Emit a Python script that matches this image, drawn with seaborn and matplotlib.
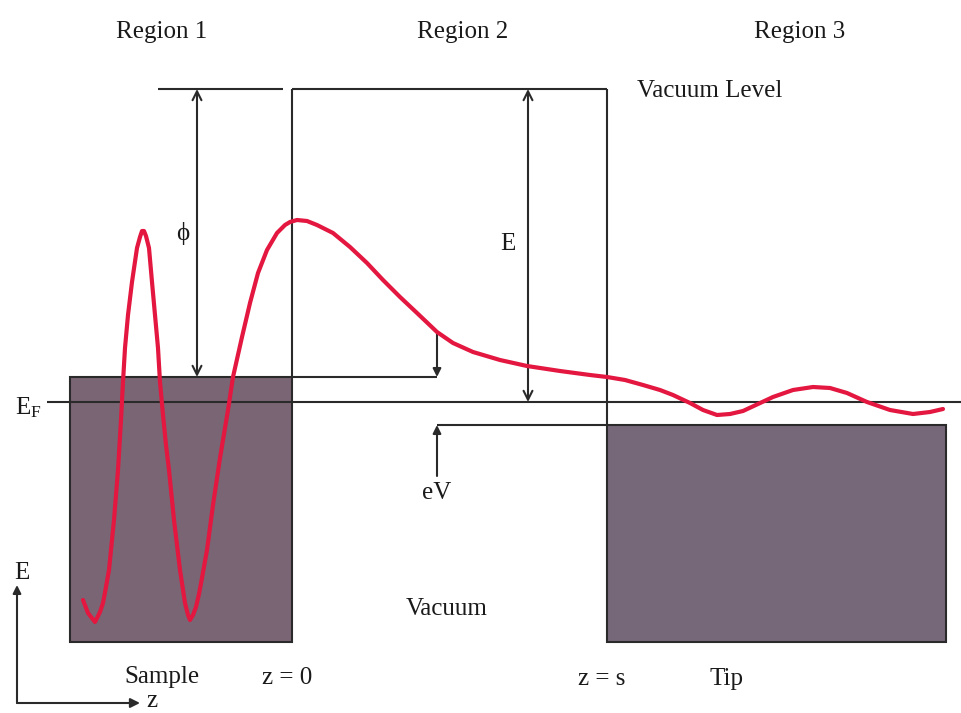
import numpy as np
import pandas as pd
import matplotlib
matplotlib.use("Agg")
import matplotlib.pyplot as plt
from matplotlib.patches import Rectangle
import seaborn as sns

# ---------------- data (diagram units = reference pixels) ----------------
wave_z = [83, 88, 95, 100, 103, 106, 109, 114, 118, 121, 123, 125, 128, 132, 137,
          140, 142, 144, 146, 149, 152, 155, 158, 160, 163, 166, 169, 174, 180, 185, 188,
          190, 193, 196, 199, 202, 207, 213, 220, 228, 233, 242, 250, 258, 267, 277,
          285, 290, 297, 307, 317, 333, 350, 367, 383, 400, 417, 437, 453, 473, 500,
          527, 560, 590, 607, 625, 643, 660, 673, 690, 703, 717, 730, 743, 758, 773,
          793, 813, 830, 847, 867, 890, 913, 930, 943]
wave_e = [600, 613, 622, 612, 603, 587, 570, 520, 470, 420, 382, 348, 315, 282, 248,
          237, 231, 231, 236, 248, 282, 315, 348, 382, 415, 445, 470, 520, 570, 603, 615,
          620, 615, 607, 594, 578, 550, 505, 458, 410, 377, 337, 303, 273, 250, 233,
          225, 222, 220, 221, 225, 233, 247, 263, 280, 297, 313, 332, 343, 352, 360,
          366, 371, 375, 377, 380, 385, 390, 395, 403, 410, 415, 414, 411, 404, 397,
          390, 387, 388, 393, 402, 410, 414, 412, 409]

vacuum_level = 89
sample_top = 377
fermi_level = 402
tip_top = 425
bottom_level = 642
sample_edges = [70, 292]
tip_edges = [607, 946]
eV_z = 437
phi_z = 197
E_z = 528

region_labels = ["Region 1", "Region 2", "Region 3"]
bottom_labels = ["Sample", "z = 0", "z = s", "Tip"]

# ---------------- figure ----------------
sns.set_style("white")
plt.rcParams["font.family"] = ["Liberation Serif", "DejaVu Serif"]
plt.rcParams["mathtext.fontset"] = "custom"
plt.rcParams["mathtext.rm"] = "Liberation Serif"
plt.rcParams["mathtext.it"] = "Liberation Serif:italic"

fig = plt.figure(figsize=(9.62, 7.13), dpi=100)
ax = fig.add_axes([0, 0, 1, 1])

lc = "#2a2a2a"
lw = 1.5
box_fc = "#7a6574"
tip_fc = "#776879"

# boxes
ax.add_patch(Rectangle((sample_edges[0], sample_top), sample_edges[1] - sample_edges[0],
                       bottom_level - sample_top, facecolor=box_fc, edgecolor=lc, lw=lw, zorder=1))
ax.add_patch(Rectangle((tip_edges[0], tip_top), tip_edges[1] - tip_edges[0],
                       bottom_level - tip_top, facecolor=tip_fc, edgecolor=lc, lw=lw, zorder=1))

# level lines
def seg(x0, y0, x1, y1):
    ax.plot([x0, x1], [y0, y1], color=lc, lw=lw, zorder=2, solid_capstyle="butt")

seg(158, vacuum_level, 283, vacuum_level)
seg(sample_edges[1], vacuum_level, tip_edges[0], vacuum_level)
seg(sample_edges[1], vacuum_level, sample_edges[1], sample_top)
seg(tip_edges[0], vacuum_level, tip_edges[0], tip_top)
seg(sample_edges[1], sample_top, eV_z, sample_top)
seg(eV_z, tip_top, tip_edges[0], tip_top)
seg(47, fermi_level, 962, fermi_level)

# arrows
def arrow(x0, y0, x1, y1, style="->", ms=14):
    ax.annotate("", xy=(x1, y1), xytext=(x0, y0),
                arrowprops=dict(arrowstyle=style, color=lc, lw=lw,
                                mutation_scale=ms, shrinkA=0, shrinkB=0), zorder=3)

arrow(phi_z, vacuum_level, phi_z, sample_top, "<->", 16)
arrow(E_z, vacuum_level, E_z, fermi_level, "<->", 16)
arrow(eV_z, 332, eV_z, sample_top, "-|>", 12)
arrow(eV_z, 476, eV_z, tip_top, "-|>", 12)
arrow(17, 703, 17, 585, "-|>", 12)
arrow(17, 703, 140, 703, "-|>", 14)

# wavefunction
df = pd.DataFrame({"z": wave_z, "E": wave_e})
sns.lineplot(data=df, x="z", y="E", sort=False, estimator=None, ax=ax,
             color="#e3173f", lw=3.0, zorder=4)
ax.set_xlim(0, 962)
ax.set_ylim(713, 0)
ax.axis("off")

# text
fs = 18
def label(x, y, s):
    ax.text(x, y, s, fontsize=fs, ha="center", va="baseline", color="#1a1a1a")

label(162, 38, region_labels[0])
label(463, 38, region_labels[1])
label(800, 38, region_labels[2])
label(710, 97, "Vacuum Level")
label(183, 240, "ϕ")
label(508, 250, "E")
label(437, 499, "eV")
label(447, 615, "Vacuum")
label(28, 414, r"E$_\mathrm{F}$")
label(22, 579, "E")
label(152, 707, "z")
label(162, 683, bottom_labels[0])
label(287, 684, bottom_labels[1])
label(602, 685, bottom_labels[2])
label(727, 685, bottom_labels[3])

fig.savefig("out.png", dpi=100)
